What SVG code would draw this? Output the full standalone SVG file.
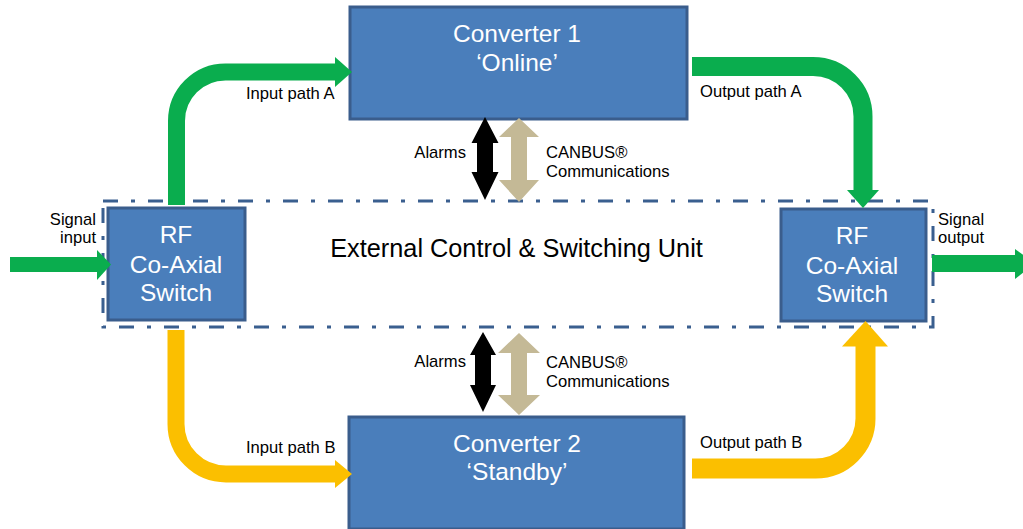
<svg xmlns="http://www.w3.org/2000/svg" width="1023" height="529" viewBox="0 0 1023 529">
<style>
.box{fill:#4A7EBB;stroke:#3A5D8C;stroke-width:3}
.big{font-family:"Liberation Sans",Arial,sans-serif;font-size:24.5px;fill:#ffffff;text-anchor:middle}
.lbl{font-family:"Liberation Sans",Arial,sans-serif;font-size:16.6px;fill:#000000}
.grn{fill:none;stroke:#0AAD4E}
.yel{fill:none;stroke:#FBBF00}
.gh{fill:#0AAD4E}
.yh{fill:#FBBF00}
.blk{fill:#000000}
.tan{fill:#C4B996}
</style>
<rect width="1023" height="529" fill="#ffffff"/>
<g id="ecsu">
<rect x="103" y="201" width="830" height="126" fill="none" stroke="#3A5F8F" stroke-width="3" stroke-dasharray="15 13 4 13"/>
<text x="516.5" y="257" font-family="'Liberation Sans',Arial,sans-serif" font-size="25.3" text-anchor="middle" fill="#000">External Control &amp; Switching Unit</text>
</g>
<g id="converter1">
<rect class="box" x="350" y="7" width="337" height="112"/>
<text class="big" x="517" y="42">Converter 1</text>
<text class="big" x="517" y="71">‘Online’</text>
</g>
<g id="converter2">
<rect class="box" x="349" y="417" width="335" height="112"/>
<text class="big" x="517" y="452">Converter 2</text>
<text class="big" x="517" y="480">‘Standby’</text>
</g>
<g id="rf-in">
<rect class="box" x="108" y="208" width="137" height="112"/>
<text class="big" x="176" y="243">RF</text>
<text class="big" x="176" y="273">Co-Axial</text>
<text class="big" x="176" y="301">Switch</text>
</g>
<g id="rf-out">
<rect class="box" x="781" y="209" width="145" height="112"/>
<text class="big" x="852" y="244">RF</text>
<text class="big" x="852" y="274">Co-Axial</text>
<text class="big" x="852" y="302">Switch</text>
</g>
<g id="connectors">
<path class="grn" stroke-width="15" d="M10,264.5 H98"/>
<polygon class="gh" points="97,250 111,264.5 97,280"/>
<path class="grn" stroke-width="17" d="M932,263.5 H1016"/>
<polygon class="gh" points="1015,249 1035,263.5 1015,279"/>
<path class="grn" stroke-width="17" d="M176.5,205 V121 A49,49 0 0 1 225.5,72 H336"/>
<polygon class="gh" points="335,57 352,72 335,87"/>
<path class="grn" stroke-width="19" d="M692,66.5 H813 A50,50 0 0 1 863,116.5 V191"/>
<polygon class="gh" points="847,190 879,190 863,208"/>
<path class="yel" stroke-width="17" d="M176,330 V424 A50,50 0 0 0 226,474 H336"/>
<polygon class="yh" points="335,460 352,474 335,488"/>
<path class="yel" stroke-width="20" d="M692,468.5 H815 A50,50 0 0 0 865.5,418 V345"/>
<polygon class="yh" points="842,346.5 888,346.5 865.5,321"/>
<polygon class="blk" points="485,117 471.5,143 477,143 477,172 471.5,172 485,200 498.5,172 493,172 493,143 498.5,143"/>
<polygon class="tan" points="519,118 499,137 511,137 511,180 499,180 519,202 539,180 527,180 527,137 539,137"/>
<polygon class="blk" points="483,332 470,355 475,355 475,385 470,385 483,412 496,385 491,385 491,355 496,355"/>
<polygon class="tan" points="519,333 498,353 511,353 511,395 498,395 519,415 540,395 527,395 527,353 540,353"/>
</g>
<g id="labels">
<text class="lbl" x="96" y="225" text-anchor="end">Signal</text>
<text class="lbl" x="96" y="243" text-anchor="end">input</text>
<text class="lbl" x="938" y="225">Signal</text>
<text class="lbl" x="938" y="243">output</text>
<text class="lbl" x="246" y="99">Input path A</text>
<text class="lbl" x="700" y="97">Output path A</text>
<text class="lbl" x="246" y="453">Input path B</text>
<text class="lbl" x="700" y="448">Output path B</text>
<text class="lbl" x="466" y="158" text-anchor="end">Alarms</text>
<text class="lbl" x="546" y="158">CANBUS®</text>
<text class="lbl" x="546" y="177">Communications</text>
<text class="lbl" x="466" y="367" text-anchor="end">Alarms</text>
<text class="lbl" x="546" y="368">CANBUS®</text>
<text class="lbl" x="546" y="387">Communications</text>
</g>
</svg>
